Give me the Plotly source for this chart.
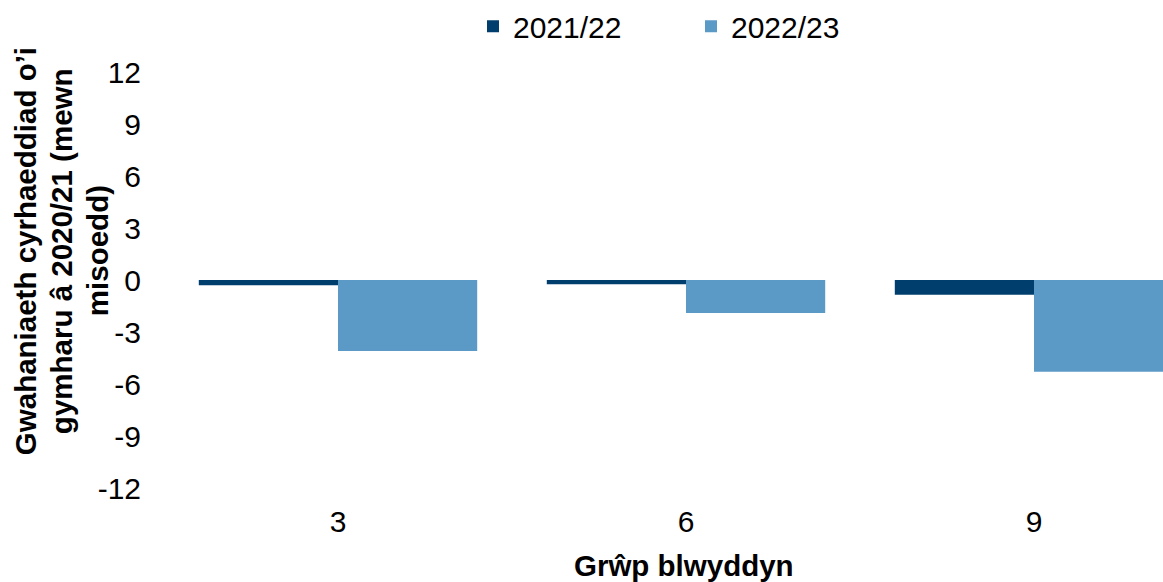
import plotly.graph_objects as go

# ---- data ----
categories = ["3", "6", "9"]
series_names = ["2021/22", "2022/23"]
values_2021_22 = [-0.3, -0.25, -0.85]
values_2022_23 = [-4.1, -1.9, -5.3]
y_tick_values = [-12, -9, -6, -3, 0, 3, 6, 9, 12]
y_tick_labels = ["-12", "-9", "-6", "-3", "0", "3", "6", "9", "12"]
x_title = "Grŵp blwyddyn"
y_title_lines = ["Gwahaniaeth cyrhaeddiad o’i", "gymharu â 2020/21 (mewn", "misoedd)"]

# ---- style ----
colors = ["#003f6d", "#5b9ac7"]
FONT = "Liberation Sans, Arial, sans-serif"
W, H = 1163, 582
ML, MR, MT, MB = 164, 0, 70, 94
cat_px = 348.0
plot_w = W - ML - MR
plot_h = H - MT - MB


def px_x(p):
    return (p - ML) / plot_w


def px_y(p):
    return (MT + plot_h - p) / plot_h


fig = go.Figure()
for name, vals, col in zip(series_names, [values_2021_22, values_2022_23], colors):
    fig.add_trace(go.Bar(x=categories, y=vals, name=name,
                         marker=dict(color=col, line=dict(width=0))))

fig.update_layout(
    width=W, height=H, autosize=False,
    margin=dict(l=ML, r=MR, t=MT, b=MB, pad=0),
    plot_bgcolor="white", paper_bgcolor="white",
    barmode="group", bargap=0.2, bargroupgap=0,
    font=dict(family=FONT, color="#000000", size=30),
    showlegend=True,
    legend=dict(orientation="h", x=px_x(473), xanchor="left",
                y=px_y(24), yanchor="middle",
                entrywidth=173, entrywidthmode="pixels",
                font=dict(size=30, family=FONT), bgcolor="rgba(0,0,0,0)",
                itemclick=False),
    xaxis=dict(type="category", range=[-0.5, -0.5 + plot_w / cat_px],
               showgrid=False, zeroline=False, showline=False, ticks="",
               tickfont=dict(size=30), ticklabelstandoff=13),
    yaxis=dict(range=[-12, 12], tickmode="array", tickvals=y_tick_values,
               ticktext=y_tick_labels,
               showgrid=False, zeroline=False, showline=False, ticks="",
               tickfont=dict(size=30), ticklabelstandoff=22),
)

fig.add_annotation(text=x_title, xref="paper", yref="paper",
                   x=px_x(684), y=px_y(566),
                   xanchor="center", yanchor="middle", showarrow=False,
                   font=dict(size=29.5, family=FONT, color="#000000", weight="bold"))

for line, cx in zip(y_title_lines, [25, 61, 97]):
    fig.add_annotation(text=line, xref="paper", yref="paper",
                       x=px_x(cx), y=px_y(250),
                       xanchor="center", yanchor="middle", showarrow=False, textangle=-90,
                       font=dict(size=29.5, family=FONT, color="#000000", weight="bold"))

fig.write_html("out.html", config={"displayModeBar": False},
               post_script="document.body.style.margin='0';")
